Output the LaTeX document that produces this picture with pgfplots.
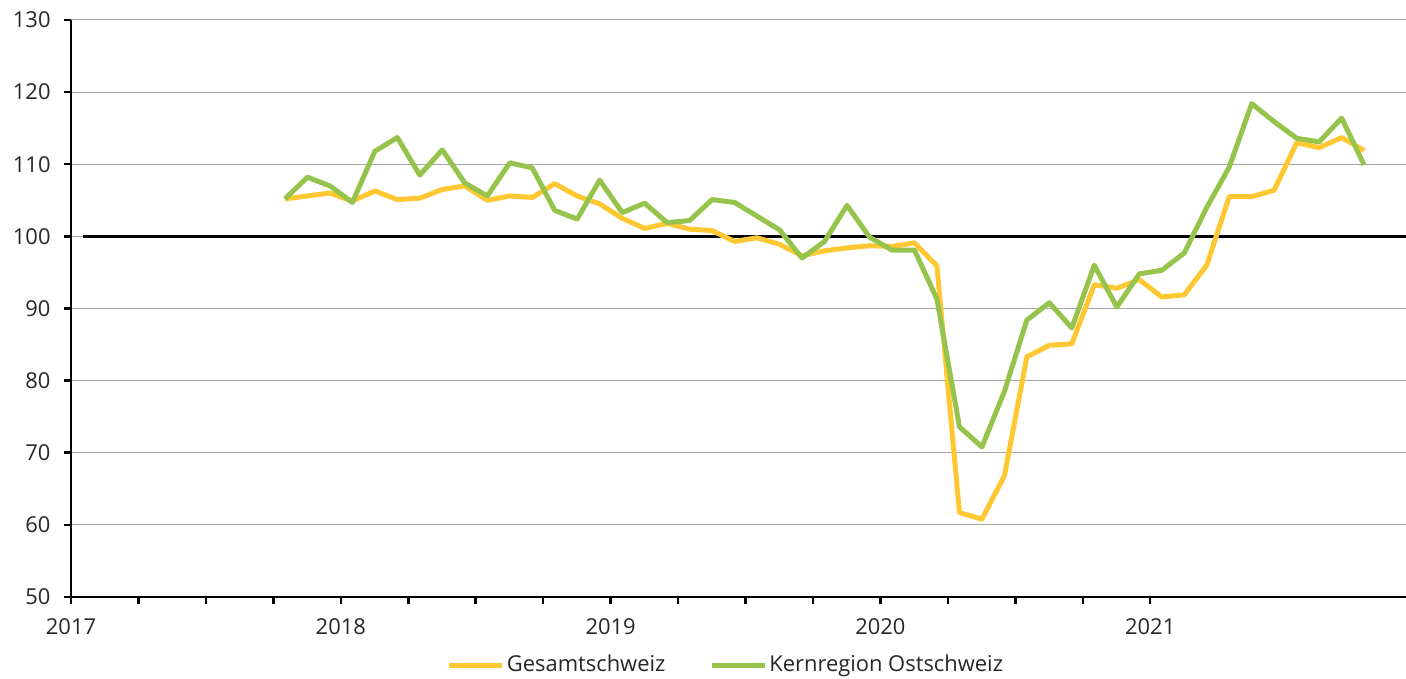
\documentclass[border=0pt]{standalone}
\usepackage{pgfplots}
\pgfplotsset{compat=1.18}
\usepackage{fontspec}
\setmainfont{Open Sans}
\definecolor{cyel}{RGB}{255,200,50}
\definecolor{cgrn}{RGB}{150,195,75}
\begin{document}
\fontsize{22}{26}\selectfont
\begin{tikzpicture}
\useasboundingbox (-71bp,-82bp) rectangle (1335bp,20bp+577bp);
\begin{axis}[
  at={(0,0)}, anchor=south west,
  scale only axis, width=1335bp, height=577bp,
  xmin=2017, xmax=2021.948, ymin=50, ymax=130,
  axis x line=bottom, axis y line=left,
  axis line style={black, line width=2.5bp, -},
  xtick={2017,2018,2019,2020,2021},
  minor x tick num=3,
  ytick={50,60,...,130},
  tick align=outside,
  major tick length=7bp, minor tick length=7bp,
  every tick/.style={black, line width=2.5bp},
  ymajorgrids, major grid style={gray!70, line width=1bp},
  /pgf/number format/1000 sep={},
  /pgf/number format/assume math mode=true,
  ticklabel style={font=\fontsize{22}{26}\selectfont, text=black!85},
  yticklabel style={xshift=-6bp},
  xticklabel style={yshift=-7bp},
  clip=false,
  legend columns=2,
  legend style={at={(0.4906,-0.118)}, anchor=center, draw=none, fill=none,
    font=\fontsize{22}{26}\selectfont, text=black!85,
    /tikz/every even column/.append style={column sep=42bp}},
  legend image code/.code={\draw[#1] (0bp,0bp) -- (53bp,0bp);},
]
\draw[black, line width=3bp] (axis cs:2017.045,100) -- (axis cs:2021.948,100);
\addplot[cyel, line width=5bp, line join=round] table[x expr=2017.793+\coordindex/12, y index=0] {
105.2
105.6
106.0
104.9
106.3
105.1
105.3
106.5
107.0
105.0
105.6
105.4
107.3
105.6
104.5
102.5
101.1
101.8
101.0
100.8
99.3
99.8
98.9
97.3
98.0
98.4
98.7
98.6
99.1
95.9
61.7
60.8
66.8
83.3
84.9
85.1
93.3
92.8
94.0
91.6
91.9
96.0
105.5
105.5
106.4
113.0
112.3
113.7
111.9
};
\addlegendentry{Gesamtschweiz}
\addplot[cgrn, line width=5bp, line join=round] table[x expr=2017.793+\coordindex/12, y index=0] {
105.2
108.2
107.0
104.7
111.8
113.7
108.5
112.0
107.4
105.6
110.2
109.5
103.6
102.4
107.8
103.3
104.6
101.9
102.2
105.1
104.7
102.8
100.9
97.0
99.3
104.3
99.9
98.1
98.1
91.3
73.6
70.8
78.5
88.4
90.8
87.3
96.0
90.2
94.8
95.3
97.7
104.0
109.6
118.4
115.9
113.6
113.1
116.4
109.9
};
\addlegendentry{Kernregion Ostschweiz}
\end{axis}
\end{tikzpicture}
\end{document}
